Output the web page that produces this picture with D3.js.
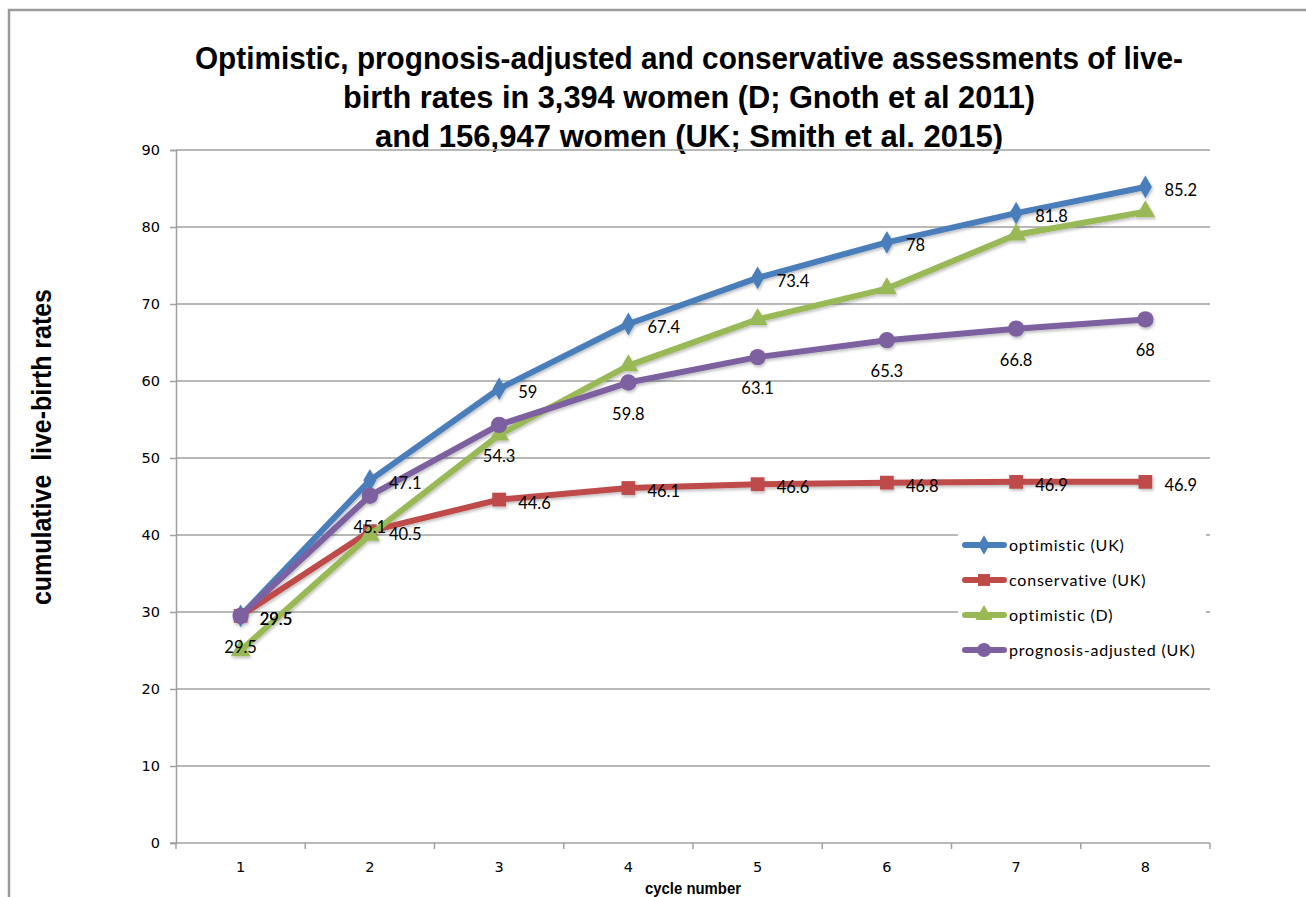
<!DOCTYPE html>
<html>
<head>
<meta charset="utf-8">
<script src="https://cdn.jsdelivr.net/npm/d3@7"></script>
<style>
  body { margin: 0; background: #fff; }
  svg { display: block; }
</style>
</head>
<body>
<svg id="chart" width="1306" height="897"></svg>
<script>
var cycles = ["1", "2", "3", "4", "5", "6", "7", "8"];
var yTicks = [0, 10, 20, 30, 40, 50, 60, 70, 80, 90];

var optimisticUK = [29.5, 47.1, 59, 67.4, 73.4, 78, 81.8, 85.2];
var conservativeUK = [29.5, 40.5, 44.6, 46.1, 46.6, 46.8, 46.9, 46.9];
var optimisticD = [25, 40, 53, 62, 68, 72, 79, 82];
var prognosisUK = [29.5, 45.1, 54.3, 59.8, 63.1, 65.3, 66.8, 68];

var titleLines = [
    "Optimistic, prognosis-adjusted and conservative assessments of live-",
    "birth rates in 3,394 women (D; Gnoth et al 2011)",
    "and 156,947 women (UK; Smith et al. 2015)"
];

var series = [
    { name: "optimistic (UK)", values: optimisticUK, color: "#4a7ebb", marker: "diamond", label: "right" },
    { name: "conservative (UK)", values: conservativeUK, color: "#be4b48", marker: "square", label: "right" },
    { name: "optimistic (D)", values: optimisticD, color: "#98b954", marker: "triangle", label: null },
    { name: "prognosis-adjusted (UK)", values: prognosisUK, color: "#7d60a0", marker: "circle", label: "below" }
];

var svg = d3.select("#chart");
var gridColor = "#a0a0a0";
// no narrow font installed, so squeeze the bold text to the widths seen in the picture
var titleWidths = [988, 692, 628];
var narrowFont = "'Liberation Sans', Arial, sans-serif";

// outer chart border
svg.append("path")
    .attr("d", "M9,897 V10 H1306")
    .attr("fill", "none")
    .attr("stroke", "#9a9a9a")
    .attr("stroke-width", 2.5);

var defs = svg.append("defs");
var shadow = defs.append("filter").attr("id", "shadow")
    .attr("x", "-20%").attr("y", "-20%").attr("width", "140%").attr("height", "140%");
shadow.append("feDropShadow")
    .attr("dx", 1).attr("dy", 2).attr("stdDeviation", 1.5)
    .attr("flood-color", "#000").attr("flood-opacity", 0.25);

var x = d3.scaleBand().domain(cycles).range([176, 1210]);
var y = d3.scaleLinear().domain([0, 90]).range([843, 150]);

// title
svg.append("g").selectAll("text")
    .data(titleLines)
    .enter().append("text")
    .attr("x", 689)
    .attr("y", (d, i) => 69 + i * 39)
    .attr("text-anchor", "middle")
    .attr("textLength", (d, i) => titleWidths[i])
    .attr("lengthAdjust", "spacingAndGlyphs")
    .style("font-family", narrowFont)
    .style("font-weight", "bold")
    .style("font-size", "32px")
    .text(d => d);

// gridlines
svg.append("g").selectAll("line")
    .data(yTicks.filter(d => d > 0))
    .enter().append("line")
    .attr("x1", 176).attr("x2", 1210)
    .attr("y1", d => y(d)).attr("y2", d => y(d))
    .attr("stroke", gridColor)
    .attr("stroke-width", 1.5);

// y axis
var yAxis = svg.append("g")
    .attr("transform", "translate(176,0)")
    .call(d3.axisLeft(y).tickValues(yTicks).tickSize(6).tickPadding(10));
yAxis.select(".domain").attr("stroke", gridColor).attr("stroke-width", 1.5);
yAxis.selectAll(".tick line").attr("stroke", gridColor).attr("stroke-width", 1.5);
yAxis.selectAll("text")
    .style("font-family", "'DejaVu Sans', Verdana, sans-serif")
    .style("font-size", "14.5px")
    .attr("fill", "#000");

// x axis
var xAxis = svg.append("g")
    .attr("transform", "translate(0,843)")
    .call(d3.axisBottom(x).tickSize(0).tickPadding(19));
xAxis.select(".domain").remove();
xAxis.append("line")
    .attr("x1", 170).attr("x2", 1210)
    .attr("stroke", gridColor).attr("stroke-width", 1.5);
xAxis.selectAll(".edge")
    .data(cycles.map(c => x(c)).concat([x.range()[1]]))
    .enter().append("line")
    .attr("class", "edge")
    .attr("x1", d => d).attr("x2", d => d)
    .attr("y1", 0).attr("y2", 6)
    .attr("stroke", gridColor).attr("stroke-width", 1.5);
xAxis.selectAll(".tick text")
    .style("font-family", "'DejaVu Sans', Verdana, sans-serif")
    .style("font-size", "14.5px")
    .attr("fill", "#000");

// axis titles
svg.append("text")
    .attr("transform", "translate(51,447) rotate(-90)")
    .attr("text-anchor", "middle")
    .attr("textLength", 316)
    .attr("lengthAdjust", "spacingAndGlyphs")
    .style("font-family", narrowFont)
    .style("font-weight", "bold")
    .style("font-size", "27px")
    .attr("xml:space", "preserve")
    .text("cumulative  live-birth rates");

svg.append("text")
    .attr("x", 693)
    .attr("y", 894)
    .attr("text-anchor", "middle")
    .attr("textLength", 96)
    .attr("lengthAdjust", "spacingAndGlyphs")
    .style("font-family", narrowFont)
    .style("font-weight", "bold")
    .style("font-size", "17px")
    .text("cycle number");

function cx(i) { return x(cycles[i]) + x.bandwidth() / 2; }

function symbolType(type) {
    if (type === "diamond") return d3.symbolDiamond;
    if (type === "square") return d3.symbolSquare;
    if (type === "triangle") return d3.symbolTriangle;
    return d3.symbolCircle;
}
var markerSize = { diamond: 150, square: 190, triangle: 170, circle: 210 };

var line = d3.line()
    .x((d, i) => cx(i))
    .y(d => y(d));

// series lines + markers
var seriesG = svg.append("g").attr("filter", "url(#shadow)");
series.forEach(function(s) {
    var g = seriesG.append("g");
    g.append("path")
        .datum(s.values)
        .attr("d", line)
        .attr("fill", "none")
        .attr("stroke", s.color)
        .attr("stroke-width", 6)
        .attr("stroke-linejoin", "round")
        .attr("stroke-linecap", "round");
    g.selectAll(".mk")
        .data(s.values)
        .enter().append("path")
        .attr("class", "mk")
        .attr("transform", (d, i) => "translate(" + cx(i) + "," + y(d) + ")")
        .attr("d", d3.symbol().type(symbolType(s.marker)).size(markerSize[s.marker])())
        .attr("fill", s.color);
});

// data labels
series.forEach(function(s) {
    if (!s.label) return;
    svg.append("g").selectAll("text")
        .data(s.values)
        .enter().append("text")
        .attr("x", (d, i) => s.label === "right" ? cx(i) + 19 : cx(i))
        .attr("y", d => s.label === "right" ? y(d) + 9 : y(d) + 37)
        .attr("text-anchor", s.label === "right" ? "start" : "middle")
        .style("font-family", "Lato, 'Open Sans', sans-serif")
        .style("font-size", "16.5px")
        .attr("fill", "#000")
        .text(d => d);
});

// legend
var legend = svg.append("g").attr("transform", "translate(958,527)");
legend.append("rect")
    .attr("x", 0).attr("y", 0)
    .attr("width", 248).attr("height", 140)
    .attr("fill", "#fff");
var items = legend.selectAll(".item")
    .data(series)
    .enter().append("g")
    .attr("class", "item")
    .attr("transform", (d, i) => "translate(0," + (18 + i * 35) + ")");
items.append("line")
    .attr("x1", 7).attr("x2", 46)
    .attr("stroke", d => d.color)
    .attr("stroke-width", 6)
    .attr("stroke-linecap", "round");
items.append("path")
    .attr("transform", "translate(26,0)")
    .attr("d", d => d3.symbol().type(symbolType(d.marker)).size(markerSize[d.marker] * 0.75)())
    .attr("fill", d => d.color);
items.append("text")
    .attr("x", 51)
    .attr("y", 5.5)
    .style("font-family", "Lato, 'Open Sans', sans-serif")
    .style("font-size", "16px")
    .style("letter-spacing", "0.8px")
    .attr("fill", "#000")
    .text(d => d.name);
</script>
</body>
</html>
